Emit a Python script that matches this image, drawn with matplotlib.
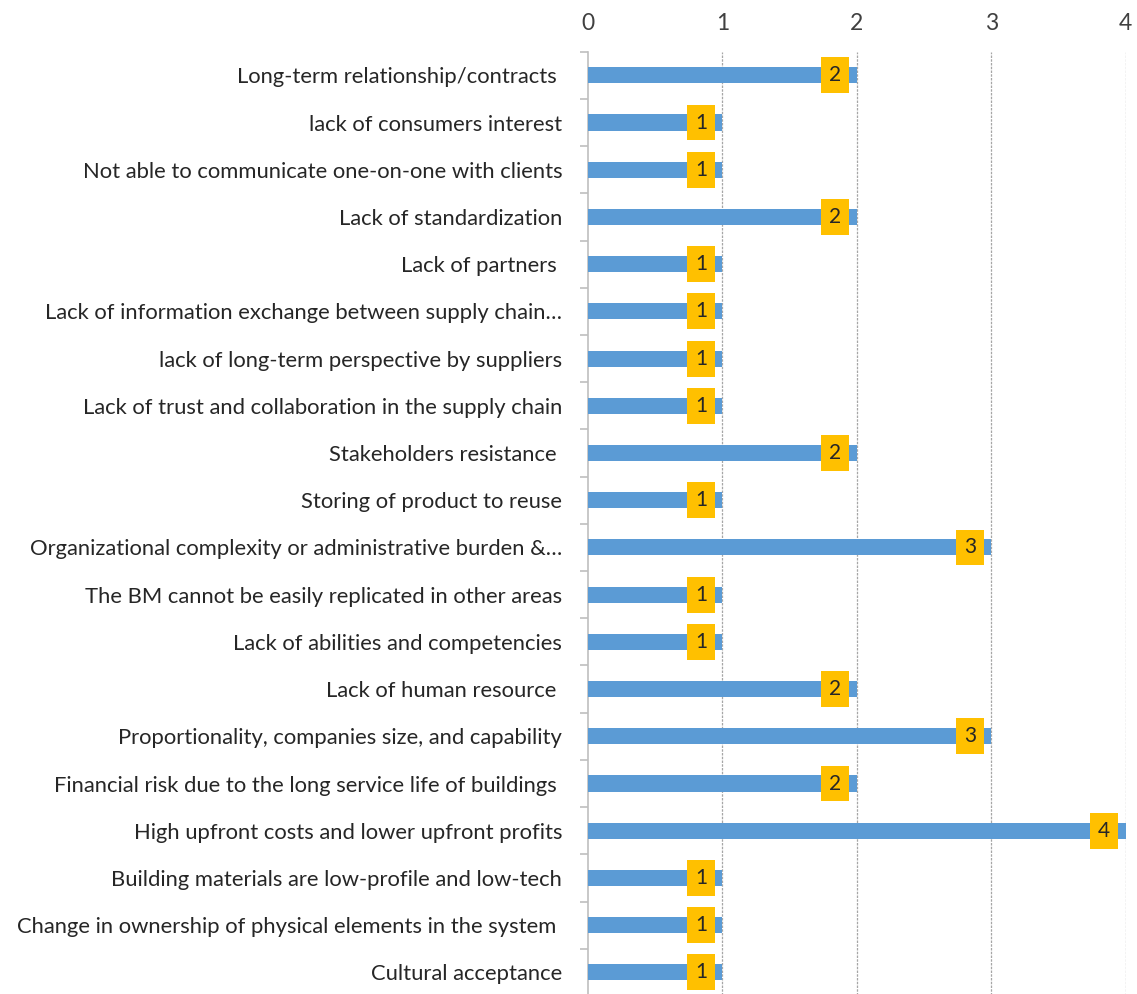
import matplotlib
matplotlib.use("Agg")
import matplotlib.pyplot as plt
import numpy as np

plt.rcParams['font.family'] = ['Lato', 'DejaVu Sans']

categories = [
    "Long-term relationship/contracts ",
    "lack of consumers interest",
    "Not able to communicate one-on-one with clients",
    "Lack of standardization",
    "Lack of partners ",
    "Lack of information exchange between supply chain\u2026",
    "lack of long-term perspective by suppliers",
    "Lack of trust and collaboration in the supply chain",
    "Stakeholders resistance ",
    "Storing of product to reuse",
    "Organizational complexity or administrative burden &\u2026",
    "The BM cannot be easily replicated in other areas",
    "Lack of abilities and competencies",
    "Lack of human resource ",
    "Proportionality, companies size, and capability",
    "Financial risk due to the long service life of buildings ",
    "High upfront costs and lower upfront profits",
    "Building materials are low-profile and low-tech",
    "Change in ownership of physical elements in the system ",
    "Cultural acceptance",
]
values = [2, 1, 1, 2, 1, 1, 1, 1, 2, 1, 3, 1, 1, 2, 3, 2, 4, 1, 1, 1]
x_ticks = [0, 1, 2, 3, 4]

bar_color = "#5B9BD5"
label_bg = "#FFC000"

fig = plt.figure(figsize=(11.37, 9.94), dpi=100)
ax = fig.add_axes([0.517, -0.002, 0.473, 0.950])

y = np.arange(len(categories))
ax.barh(y, values, height=0.34, color=bar_color, zorder=3)

ax.set_xlim(0, 4)
ax.set_ylim(len(categories) - 0.5, -0.5)
ax.set_xticks(x_ticks)
ax.xaxis.tick_top()
ax.tick_params(axis='x', length=0, labelsize=16.5, colors="#404040", pad=13)
ax.set_yticks(y)
ax.set_yticklabels(categories)
ax.tick_params(axis='y', which='major', length=0, labelsize=15.8,
               colors="#262626", pad=18.5)
ax.set_yticks(np.arange(-0.5, len(categories), 1.0), minor=True)
ax.tick_params(axis='y', which='minor', length=6, color="#BFBFBF", width=1.2)

for s in ['top', 'right', 'bottom']:
    ax.spines[s].set_visible(False)
ax.spines['left'].set_color("#BFBFBF")
ax.spines['left'].set_linewidth(1.2)

for xv in x_ticks[1:]:
    ax.axvline(xv, color="#A6A6A6", lw=0.9, ls=(0, (2, 1)), zorder=1)

for yi, v in zip(y, values):
    ax.annotate(str(v), xy=(v, yi), xytext=(-11, 0), textcoords='offset points',
                ha='right', va='center', fontsize=15, color="#262626", zorder=5,
                bbox=dict(boxstyle='square,pad=0.38', fc=label_bg, ec='none'))

fig.savefig("out.png", dpi=100)
